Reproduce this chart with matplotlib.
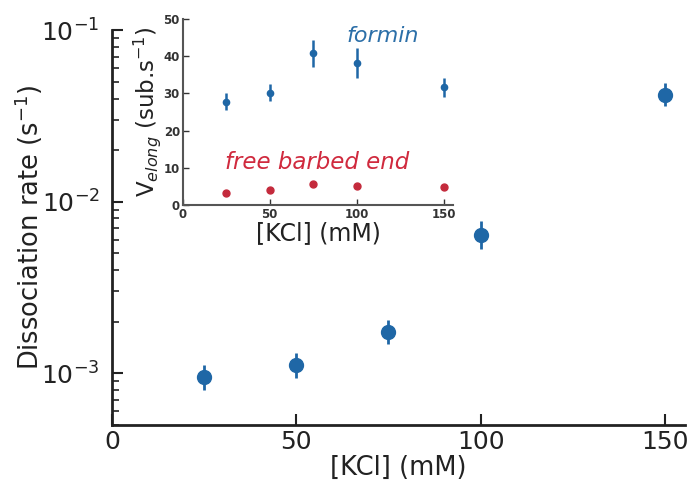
import matplotlib
matplotlib.use("Agg")
import matplotlib.pyplot as plt
import numpy as np

# Main panel data
kcl = [25, 50, 75, 100, 150]
diss_rate = [9.5e-4, 1.11e-3, 1.74e-3, 6.4e-3, 4.2e-2]
diss_low = [8.0e-4, 0.94e-3, 1.48e-3, 5.3e-3, 3.6e-2]
diss_high = [1.12e-3, 1.31e-3, 2.05e-3, 7.7e-3, 4.9e-2]

# Inset data
formin_v = [27.8, 30.2, 40.8, 38.2, 31.6]
formin_err = [2.4, 2.2, 3.7, 4.0, 2.5]
free_v = [3.3, 4.0, 5.6, 5.2, 4.9]

blue = '#1f67a6'
red = '#c42a3c'

fig = plt.figure(figsize=(6.92, 4.90), dpi=100)
ax = fig.add_axes([0.162, 0.133, 0.828, 0.805])

yerr = [np.array(diss_rate) - np.array(diss_low), np.array(diss_high) - np.array(diss_rate)]
ax.errorbar(kcl, diss_rate, yerr=yerr, fmt='o', color=blue, ms=10, elinewidth=2.0,
            capsize=0, mec=blue)
ax.set_yscale('log')
ax.set_ylim(5e-4, 1e-1)
ax.set_xlim(0, 155.5)
ax.set_xticks([0, 50, 100, 150])
ax.set_yticks([1e-3, 1e-2, 1e-1])
ax.set_yticklabels(['$\\mathregular{10^{-3}}$', '$\\mathregular{10^{-2}}$', '$\\mathregular{10^{-1}}$'])
for s in ['top', 'right']:
    ax.spines[s].set_visible(False)
for s in ['left', 'bottom']:
    ax.spines[s].set_linewidth(2)
    ax.spines[s].set_color('#222222')
ax.tick_params(which='major', direction='in', length=8, width=1.5, labelsize=18, colors='#222222')
ax.tick_params(axis='y', which='major', pad=9)
ax.tick_params(which='minor', direction='in', length=5, width=1.2, colors='#222222')
ax.tick_params(axis='x', which='minor', length=0)
ax.set_xlabel('[KCl] (mM)', fontsize=18.5, color='#222222', labelpad=1)
ax.set_ylabel('Dissociation rate (s$^{-1}$)', fontsize=18.5, color='#222222', labelpad=-3)

# Inset
ins = fig.add_axes([0.264, 0.582, 0.391, 0.379])
ins.errorbar(kcl, formin_v, yerr=formin_err, fmt='o', color=blue, ms=4.5, elinewidth=1.8, capsize=0)
ins.plot(kcl, free_v, 'o', color=red, ms=5, linestyle='none')
ins.set_xlim(0, 155.5)
ins.set_ylim(0, 50)
ins.set_xticks([0, 50, 100, 150])
ins.set_yticks([0, 10, 20, 30, 40, 50])
for s in ['top', 'right']:
    ins.spines[s].set_visible(False)
for s in ['left', 'bottom']:
    ins.spines[s].set_linewidth(1.5)
    ins.spines[s].set_color('#555555')
ins.tick_params(direction='in', length=4, width=1, labelsize=8.5, colors='#333333', pad=2)
for lbl in ins.get_xticklabels() + ins.get_yticklabels():
    lbl.set_fontweight('bold')
ins.set_xlabel('[KCl] (mM)', fontsize=17, color='#222222', labelpad=0)
ins.set_ylabel('V$_{elong}$ (sub.s$^{-1}$)', fontsize=16.5, color='#222222', labelpad=0.5)
ins.patch.set_alpha(0)
ins.text(115, 45.5, 'formin', color='#2c6fa8', fontsize=16, style='italic', ha='center', va='center')
ins.text(77, 11.3, 'free barbed end', color='#d02a3e', fontsize=16.5, style='italic', ha='center', va='center')

fig.savefig('out.png', dpi=100)
